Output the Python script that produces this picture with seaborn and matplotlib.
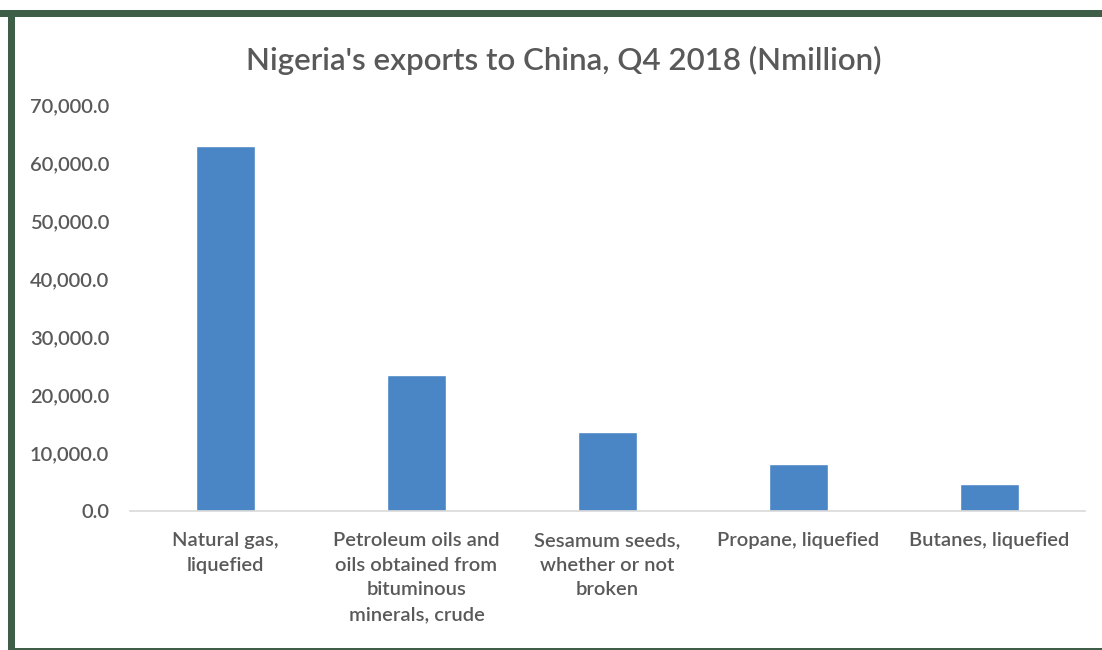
import matplotlib
matplotlib.use('Agg')
import matplotlib.pyplot as plt
import matplotlib.patches as mpatches
from matplotlib.ticker import FuncFormatter, MultipleLocator
import seaborn as sns
import pandas as pd

# Données
produits = [
    "Natural gas,\nliquefied",
    "Petroleum oils and\noils obtained from\nbituminous\nminerals, crude",
    "Sesamum seeds,\nwhether or not\nbroken",
    "Propane, liquefied",
    "Butanes, liquefied",
]
valeurs = [63000.0, 23500.0, 13700.0, 8100.0, 4650.0]

df = pd.DataFrame({'Produit': produits, 'Valeur': valeurs})

sns.set_style('white')
plt.rcParams['font.family'] = ['Lato', 'DejaVu Sans']
plt.rcParams['font.weight'] = 'semibold'
gris = '#595959'

fig = plt.figure(figsize=(11.02, 6.5), dpi=100)
W, H = 1102, 650

# Cadre vert
vert = '#3e5e48'
fig.patches.append(mpatches.Rectangle((0, 1 - 17 / H), 1, 7 / H, transform=fig.transFigure,
                                      facecolor=vert, edgecolor='none'))
fig.patches.append(mpatches.Rectangle((8 / W, 0), 7 / W, 1 - 10 / H, transform=fig.transFigure,
                                      facecolor=vert, edgecolor='none'))
fig.patches.append(mpatches.Rectangle((8 / W, 0), 1, 2 / H, transform=fig.transFigure,
                                      facecolor=vert, edgecolor='none'))

ax = fig.add_axes([130 / W, (H - 511) / H, (1085 - 130) / W, (511 - 105) / H])
sns.barplot(data=df, x='Produit', y='Valeur', color='#4a86c5', width=0.31, saturation=1, ax=ax)

ax.set_ylim(0, 70000)
ax.yaxis.set_major_locator(MultipleLocator(10000))
ax.yaxis.set_major_formatter(FuncFormatter(lambda v, p: f'{v:,.1f}'))
ax.set_xlabel('')
ax.set_ylabel('')
for s in ['top', 'right', 'left']:
    ax.spines[s].set_visible(False)
ax.spines['bottom'].set_color('#d9d9d9')
ax.spines['bottom'].set_linewidth(1.2)
ax.tick_params(axis='both', length=0, labelsize=14.5, labelcolor=gris)
ax.tick_params(axis='y', pad=15)
ax.tick_params(axis='x', pad=15)
for lab in ax.get_xticklabels():
    lab.set_linespacing(1.55)
    lab.set_va('top')

fig.text(564 / W, 1 - 60 / H, "Nigeria's exports to China, Q4 2018 (Nmillion)", ha='center', va='center',
         fontsize=22.5, color=gris)

plt.savefig('out.png', dpi=100)
